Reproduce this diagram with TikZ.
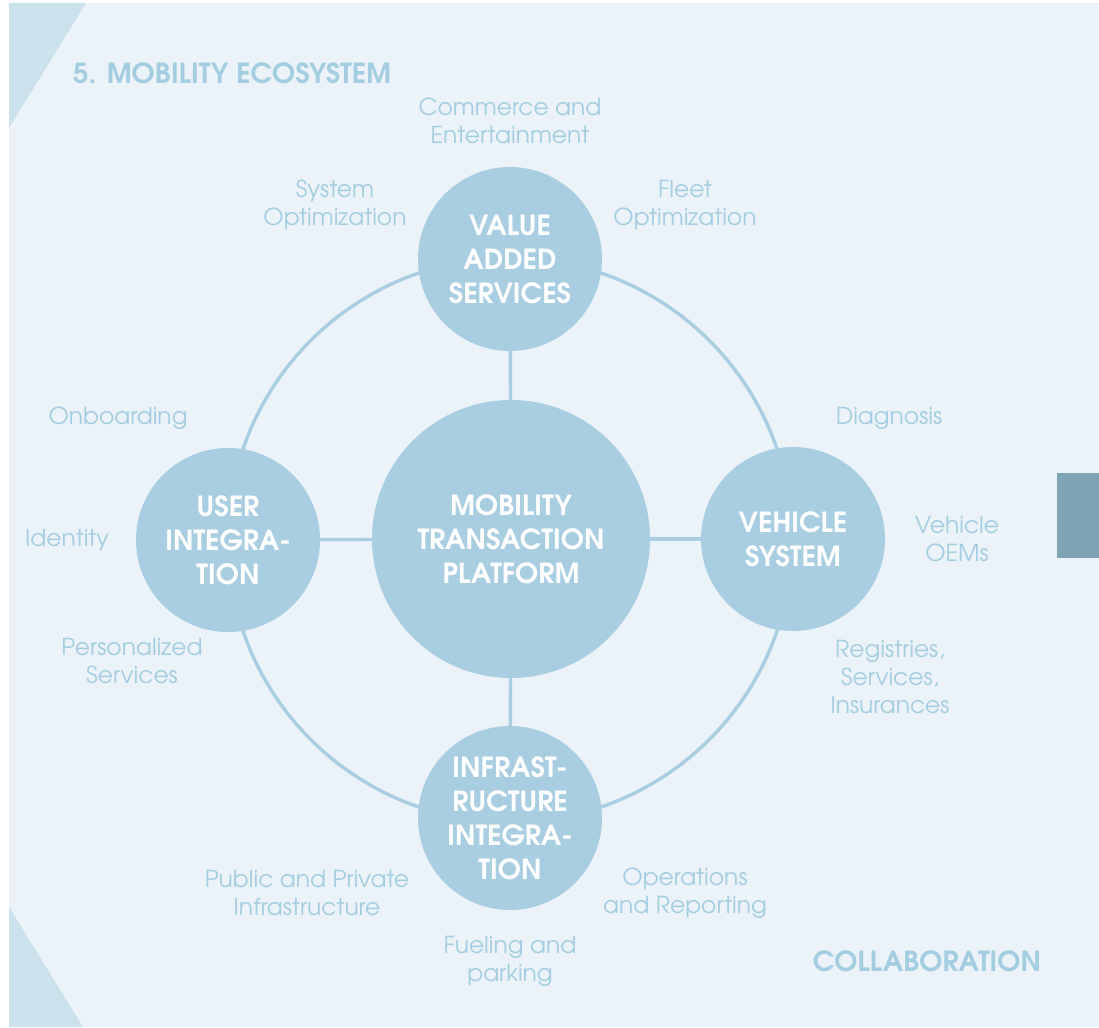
\documentclass[tikz,border=0pt]{standalone}
\usepackage{fontspec}
\setmainfont{texgyreadventor}[Extension=.otf,UprightFont=*-regular,BoldFont=*-bold,ItalicFont=*-italic,BoldItalicFont=*-bolditalic]
\definecolor{bgc}{HTML}{EBF3F8}
\definecolor{tric}{HTML}{CBE1EC}
\definecolor{circc}{HTML}{A9CEE1}
\definecolor{lblc}{HTML}{A3CDE1}
\definecolor{grayc}{HTML}{7FA4B5}
\begin{document}
\begin{tikzpicture}[x=1pt,y=-1pt,
  ring/.style={draw=circc,line width=3.4pt},
  conn/.style={draw=circc,line width=3.4pt},
  hub/.style={circle,fill=circc,inner sep=0pt,minimum size=184pt,align=center,text=white,font=\fontsize{27.7}{34}\selectfont\bfseries},
  bighub/.style={hub,minimum size=278pt},
  lbl/.style={align=center,text=lblc,inner sep=0pt,font=\fontsize{23.4}{28}\selectfont},
  ttl/.style={text=lblc,inner sep=0pt,font=\fontsize{27.7}{30}\selectfont\bfseries}]
\useasboundingbox (0,0) rectangle (1099,1027);
\fill[white] (0,0) rectangle (1099,1027);
\fill[bgc] (9,3) rectangle (1099,1027);
\fill[tric] (9,3) -- (86,3) -- (9,128) -- cycle;
\fill[tric] (9,907) -- (83,1027) -- (9,1027) -- cycle;
\fill[grayc] (1057,473) rectangle (1099,558);
\coordinate (ctr) at (510,540);
\draw[ring] (ctr) circle (282pt);
\node[bighub] (mtp) at (511,539) {MOBILITY\\TRANSACTION\\PLATFORM};
\node[hub] (vas) at (510,259) {VALUE\\ADDED\\SERVICES};
\node[hub] (ui) at (228,540) {USER\\INTEGRA-\\TION};
\node[hub] (vs) at (793,539) {VEHICLE\\SYSTEM};
\node[hub] (ii) at (510,818) {INFRAST-\\RUCTURE\\INTEGRA-\\TION};
\draw[conn] (mtp) -- (vas);
\draw[conn] (mtp) -- (ui);
\draw[conn] (mtp) -- (vs);
\draw[conn] (mtp) -- (ii);
\node[ttl,anchor=west] (title) at (73,73) {5. MOBILITY ECOSYSTEM};
\node[ttl] (collab) at (927,961) {COLLABORATION};
\node[lbl] (l1) at (510,121) {Commerce and\\Entertainment};
\node[lbl] (l2) at (335,205) {System\\Optimization};
\node[lbl] (l3) at (685,205) {Fleet\\Optimization};
\node[lbl] (l4) at (118,418) {Onboarding};
\node[lbl] (l5) at (889,418) {Diagnosis};
\node[lbl] (l6) at (67,540) {Identity};
\node[lbl] (l7) at (957,539) {Vehicle\\OEMs};
\node[lbl] (l8) at (132,661) {Personalized\\Services};
\node[lbl] (l9) at (890,677) {Registries,\\Services,\\Insurances};
\node[lbl] (l10) at (307,893) {Public and Private\\Infrastructure};
\node[lbl] (l11) at (685,893) {Operations\\and Reporting};
\node[lbl] (l12) at (510,961) {Fueling and\\parking};
\end{tikzpicture}
\end{document}
